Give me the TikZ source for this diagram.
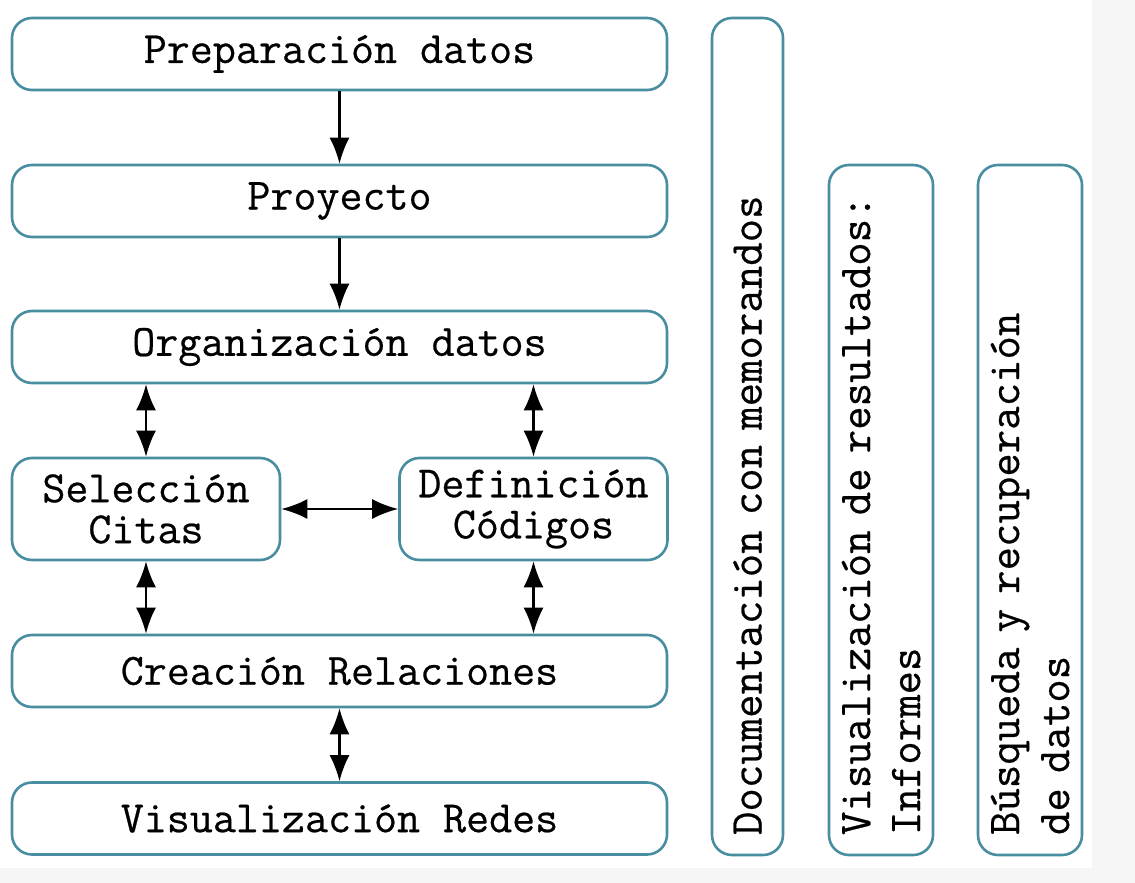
\documentclass[tikz,border=0pt]{standalone}
\usepackage{fontspec}
\setmonofont{Latin Modern Mono}[FakeBold=0.5]
\usetikzlibrary{arrows.meta}
\definecolor{boxline}{RGB}{72,142,160}
\definecolor{pagegray}{RGB}{246,246,246}

\begin{document}
\begin{tikzpicture}[x=1pt,y=-1pt,
  box/.style={draw=boxline, line width=2.6pt, rounded corners=20pt, fill=white,
    font=\ttfamily\fontsize{44.7}{41}\selectfont, inner sep=0pt, align=center},
  wide/.style={box, minimum width=655pt, minimum height=72pt},
  half/.style={box, minimum width=268pt, minimum height=102pt},
  tall/.style={box, rotate=90, align=left, inner xsep=20pt, inner ysep=0pt,
    font=\ttfamily\fontsize{45.5}{50}\selectfont},
  tip/.tip={Latex[length=26pt,width=20pt]},
  flow/.style={line width=2.2pt, -tip},
  both/.style={line width=2.2pt, tip-tip}
]
% page
\fill[pagegray] (0,0) rectangle (1135,883);
\fill[white] (0,0) rectangle (1092,868);
\useasboundingbox (0,0) rectangle (1135,883);

% main column
\node[wide] (prep) at (339.5,54)  {Preparación datos};
\node[wide] (proy) at (339.5,201) {Proyecto};
\node[wide] (org)  at (339.5,347) {Organización datos};
\node[half] (sel)  at (146,509)   {Selección\\Citas};
\node[half] (def)  at (533.5,509) {Definición\\Códigos};
\node[wide] (rel)  at (339.5,671) {Creación Relaciones};
\node[wide] (red)  at (339.5,818.5) {Visualización Redes};

% side bars (text runs bottom to top, starting near the lower edge)
\node[tall, minimum width=837pt, minimum height=71pt, text width=797pt]
  (doc) at (747.5,436.5) {\mbox{Documentación con memorandos}};
\node[tall, minimum width=690pt, minimum height=104pt, text width=650pt]
  (vis) at (881,510) {\mbox{Visualización de resultados:}\\Informes};
\node[tall, minimum width=690pt, minimum height=104pt, text width=650pt]
  (bus) at (1030,510) {\mbox{Búsqueda y recuperación}\\de datos};

% connectors
\draw[flow] (prep) -- (proy);
\draw[flow] (proy) -- (org);
\draw[both] (org.south -| sel.north) -- (sel.north);
\draw[both] (org.south -| def.north) -- (def.north);
\draw[both] (sel.east) -- (def.west);
\draw[both] (sel.south) -- (rel.north -| sel.south);
\draw[both] (def.south) -- (rel.north -| def.south);
\draw[both] (rel) -- (red);
\end{tikzpicture}
\end{document}
